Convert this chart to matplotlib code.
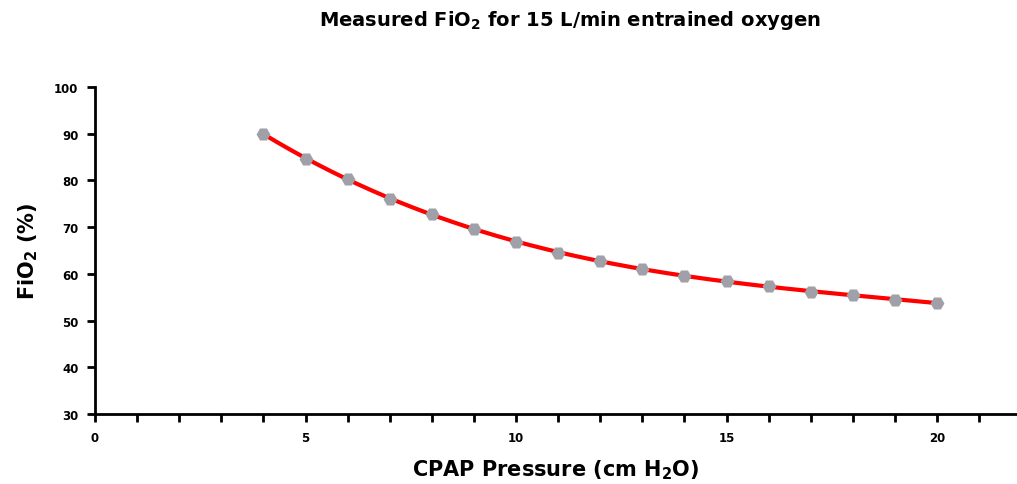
import numpy as np
import matplotlib
matplotlib.use("Agg")
import matplotlib.pyplot as plt
from matplotlib.ticker import MultipleLocator

pressure = [4, 5, 6, 7, 8, 9, 10, 11, 12, 13, 14, 15, 16, 17, 18, 19, 20]
fio2 = [90.0, 84.6, 80.4, 76.0, 72.9, 69.7, 66.9, 64.4, 62.8, 61.0, 59.6, 58.4, 57.4, 56.2, 55.4, 54.5, 53.8]

title = "Measured FiO$_\\mathbf{2}$ for 15 L/min entrained oxygen"
xlabel = "CPAP Pressure (cm H$_\\mathbf{2}$O)"
ylabel = "FiO$_\\mathbf{2}$ (%)"
xticks = [0, 5, 10, 15, 20]
yticks = [30, 40, 50, 60, 70, 80, 90, 100]

plt.rcParams['font.family'] = ['DejaVu Sans']
plt.rcParams['font.weight'] = 'bold'
plt.rcParams['mathtext.fontset'] = 'custom'
plt.rcParams['mathtext.rm'] = 'DejaVu Sans:bold'
plt.rcParams['mathtext.bf'] = 'DejaVu Sans:bold'
plt.rcParams['mathtext.default'] = 'bf'

fig = plt.figure(figsize=(10.17, 4.85), dpi=100)
ax = fig.add_axes([95/1017, 1 - 415/485, (1017 - 95)/1017, (415 - 88)/485])

# smooth fitted curve
coef = np.polyfit(pressure, fio2, 4)
xs = np.linspace(min(pressure), max(pressure), 300)
ax.plot(xs, np.polyval(coef, xs), color='#ff0000', lw=3, zorder=2, solid_capstyle='round')
ax.plot(pressure, fio2, linestyle='none', marker='H', markersize=10,
        color='#a0a0a8', markeredgewidth=0, zorder=3)

ax.set_xlim(0, 21.9)
ax.set_ylim(30, 100)
ax.set_xticks(xticks)
ax.xaxis.set_minor_locator(MultipleLocator(1))
ax.set_yticks(yticks)
for s in ['top', 'right']:
    ax.spines[s].set_visible(False)
for s in ['left', 'bottom']:
    ax.spines[s].set_linewidth(2)
    ax.spines[s].set_color('black')
ax.tick_params(axis='both', which='major', width=2, length=6, labelsize=8.5, pad=6)
ax.tick_params(axis='x', which='minor', width=2, length=6)
for lab in ax.get_xticklabels() + ax.get_yticklabels():
    lab.set_fontweight('bold')

ax.set_xlabel(xlabel, fontsize=15, fontweight='bold', labelpad=10)
ax.set_ylabel(ylabel, fontsize=15, fontweight='bold', labelpad=10)
fig.text(0.56, 0.957, title, ha='center', va='center', fontsize=14, fontweight='bold')

fig.savefig("out.png", dpi=100)
